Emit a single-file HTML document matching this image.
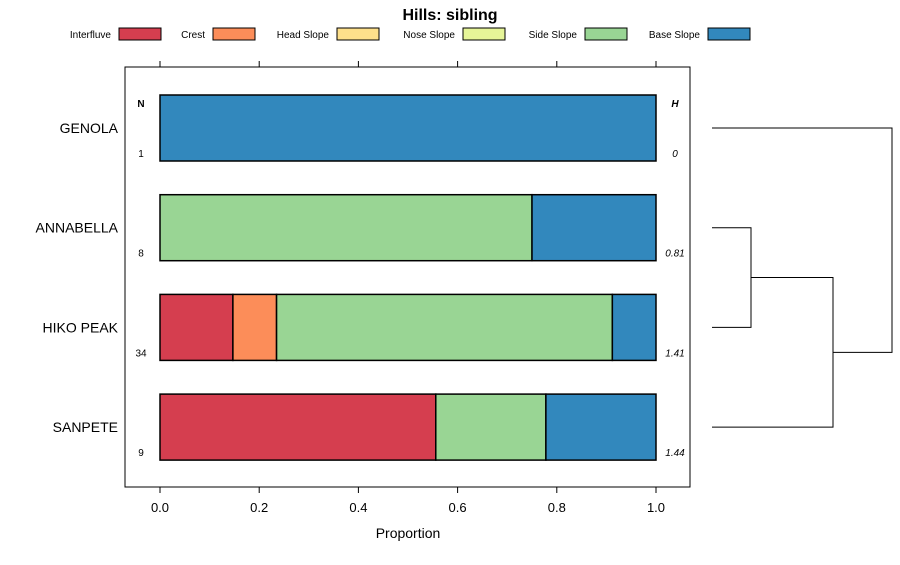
<!DOCTYPE html>
<html><head><meta charset="utf-8"><style>
body{margin:0;background:#fff;}
svg text{font-family:"Liberation Sans",sans-serif;}
</style></head><body>
<svg id="c" width="900" height="560" xmlns="http://www.w3.org/2000/svg">
<text x="450" y="20" text-anchor="middle" font-size="16" font-weight="bold">Hills: sibling</text>
<g id="legend"></g>
<rect x="125" y="67" width="565" height="420" fill="none" stroke="#000" stroke-width="1"/>
<g id="axes"></g>
<g id="bars"></g>
<g id="dendro" stroke="#000" fill="none"></g>
<text x="408" y="538" text-anchor="middle" font-size="14">Proportion</text>
<text x="141" y="107" text-anchor="middle" font-size="10" font-weight="bold">N</text>
<text x="675" y="107" text-anchor="middle" font-size="10" font-weight="bold" font-style="italic">H</text>
</svg>
<script>
const classes = ["Interfluve","Crest","Head Slope","Nose Slope","Side Slope","Base Slope"];
const colors = ["#D53E4F","#FC8D59","#FEE08B","#E6F598","#99D594","#3288BD"];
const sites = ["GENOLA","ANNABELLA","HIKO PEAK","SANPETE"];
const counts = [1,8,34,9];
const entropy = ["0","0.81","1.41","1.44"];
const interfluve = [0,0,0.147,0.556];
const crest = [0,0,0.088,0];
const headSlope = [0,0,0,0];
const noseSlope = [0,0,0,0];
const sideSlope = [0,0.75,0.677,0.222];
const baseSlope = [1,0.25,0.088,0.222];
const xTicks = [0,0.2,0.4,0.6,0.8,1.0];
const xTickLabels = ["0.0","0.2","0.4","0.6","0.8","1.0"];

const NS="http://www.w3.org/2000/svg";
function mk(tag,attrs,parent,text){const e=document.createElementNS(NS,tag);for(const k in attrs)e.setAttribute(k,attrs[k]);if(text!==undefined)e.textContent=text;parent.appendChild(e);return e;}
const xs=v=>160+v*496;
const yc=i=>128+i*99.7;
const bh=66;

// legend
const lg=document.getElementById('legend');
const lgBox=[119,213,337,463,585,708];
classes.forEach((c,i)=>{
  const t=mk('text',{x:lgBox[i]-8,y:38,'text-anchor':'end','font-size':10},lg,c);
  
  
  const r=mk('rect',{x:lgBox[i],y:28,width:42,height:12,fill:colors[i],stroke:'#000','stroke-width':1},lg);
  
  
});

// axes
const ax=document.getElementById('axes');
xTicks.forEach((v,i)=>{
  const x=xs(v);
  const t1=mk('line',{x1:x,x2:x,y1:61,y2:67,stroke:'#000'},ax);
  
  
  const t2=mk('line',{x1:x,x2:x,y1:487,y2:493,stroke:'#000'},ax);
  
  
  const l=mk('text',{x:x,y:512,'text-anchor':'middle','font-size':13},ax,xTickLabels[i]);
  
  
});

// bars
const bg=document.getElementById('bars');
const series=[interfluve,crest,headSlope,noseSlope,sideSlope,baseSlope];
sites.forEach((s,i)=>{
  const y=yc(i);
  const lab=mk('text',{x:118,y:y+5,'text-anchor':'end','font-size':14},bg,s);
  
  
  let acc=0;
  series.forEach((arr,k)=>{
    const v=arr[i];
    if(v>0){
      const r=mk('rect',{x:xs(acc),y:y-bh/2,width:xs(acc+v)-xs(acc),height:bh,fill:colors[k],stroke:'#000','stroke-width':1.5},bg);
      
      
    }
    acc+=v;
  });
  const n=mk('text',{x:141,y:y+29,'text-anchor':'middle','font-size':10},bg,String(counts[i]));
  
  
  const h=mk('text',{x:675,y:y+29,'text-anchor':'middle','font-size':10,'font-style':'italic'},bg,entropy[i]);
  
  
});

// dendrogram
const dg=document.getElementById('dendro');
const y0=yc(0),y1=yc(1),y2=yc(2),y3=yc(3);
const m12=(y1+y2)/2, m3=(m12+y3)/2;
const paths=[
  `M712 ${y1}H751V${y2}H712`,
  `M751 ${m12}H833V${y3}H712`,
  `M833 ${m3}H892V${y0}H712`
];
paths.forEach(d=>{
  const p=mk('path',{d:d,'stroke-width':1},dg);
  
  
});
</script>
</body></html>
